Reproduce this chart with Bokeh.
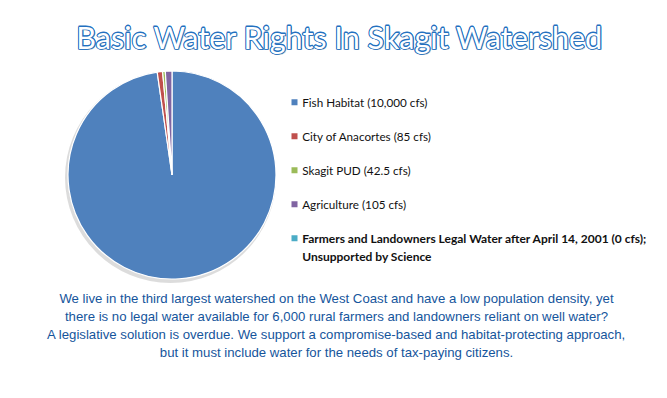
import numpy as np
from bokeh.plotting import figure
from bokeh.models import Range1d, ColumnDataSource
from bokeh.core.properties import value
from bokeh.embed import file_html
from bokeh.resources import INLINE

# ---- data ----
title_text = "Basic Water Rights In Skagit Watershed"
categories = [
    "Fish Habitat (10,000 cfs)",
    "City of Anacortes (85 cfs)",
    "Skagit PUD (42.5 cfs)",
    "Agriculture (105 cfs)",
    "Farmers and Landowners Legal Water after April 14, 2001 (0 cfs);\nUnsupported by Science",
]
flows = [10000, 85, 42.5, 105, 0]
bold_flags = [False, False, False, False, True]
colors = ["#4F81BD", "#C0504D", "#9BBB59", "#8064A2", "#4BACC6"]
caption_lines = [
    "We live in the third largest watershed on the West Coast and have a low population density, yet",
    "there is no legal water available for 6,000 rural farmers and landowners reliant on well water?",
    "A legislative solution is overdue. We support a compromise-based and habitat-protecting approach,",
    "but it must include water for the needs of tax-paying citizens.",
]

W, H = 651, 382
p = figure(width=W, height=H, output_backend="svg", toolbar_location=None,
           x_range=Range1d(0, W), y_range=Range1d(0, H), min_border=0)
p.axis.visible = False
p.grid.visible = False
p.outline_line_color = None
p.background_fill_color = "white"
p.border_fill_color = "white"

def Y(v):  # top-down layout position -> data y
    return H - v

# ---- pie ----
cx, cy, r = 171.5, Y(174.5), 104
vals = np.array(flows, dtype=float)
frac = vals / vals.sum()
end_cum = np.cumsum(frac) * 2 * np.pi
start_cum = end_cum - frac * 2 * np.pi
keep = vals > 0
pie = ColumnDataSource(dict(
    start=(np.pi / 2 - start_cum)[keep],
    end=(np.pi / 2 - end_cum)[keep],
    color=[c for c, k in zip(colors, keep) if k],
))
p.circle(x=cx - 1.5, y=cy - 2.5, radius=r + 1.5, fill_color="#8c8c8c",
         fill_alpha=0.3, line_color=None)
p.wedge(x=cx, y=cy, radius=r, start_angle="start", end_angle="end",
        direction="clock", fill_color="color", line_color="white",
        line_width=1.2, source=pie)

# ---- legend ----
lx, ly0, step = 294, 101.7, 34
for i, (lab, col, b) in enumerate(zip(categories, colors, bold_flags)):
    yy = Y(ly0 + i * step)
    p.scatter(x=[lx], y=[yy], marker="square", size=6, fill_color=col, line_color=None)
    multi = "\n" in lab
    p.text(x=[lx + 7.7], y=[yy], text=[lab], text_font=value("Lato"),
           text_font_size="12px" if b else "11.7px", text_color="#111111",
           text_font_style="bold" if b else "normal",
           text_baseline="top" if multi else "middle",
           y_offset=-7.5 if multi else 0,
           text_line_height=1.25)

# ---- title (outlined, with soft shadow) ----
tx, ty, tsize = 339.5, Y(36), "30.5px"
p.text(x=[tx + 1.5], y=[ty - 1.5], text=[title_text], text_font=value("Lato"),
       text_font_size=tsize, text_color="#7a7a7a", text_alpha=0.45,
       text_align="center", text_baseline="middle")
for dx, dy in [(-0.6, 0), (0.6, 0), (0, -0.6), (0, 0.6)]:
    p.text(x=[tx + dx], y=[ty + dy], text=[title_text], text_font=value("Lato"),
           text_font_size=tsize, text_color="#2270c0",
           text_outline_color="#2270c0",
           text_align="center", text_baseline="middle")
p.text(x=[tx], y=[ty], text=[title_text], text_font=value("Lato"),
       text_font_size=tsize, text_color="white",
       text_align="center", text_baseline="middle")

# ---- caption ----
for i, line in enumerate(caption_lines):
    p.text(x=[336], y=[Y(298 + i * 18)], text=[line], text_font=value("Liberation Sans"),
           text_font_size="13.2px", text_color="#15559c",
           text_align="center", text_baseline="middle")

open("out.html", "w").write(file_html(p, INLINE))
